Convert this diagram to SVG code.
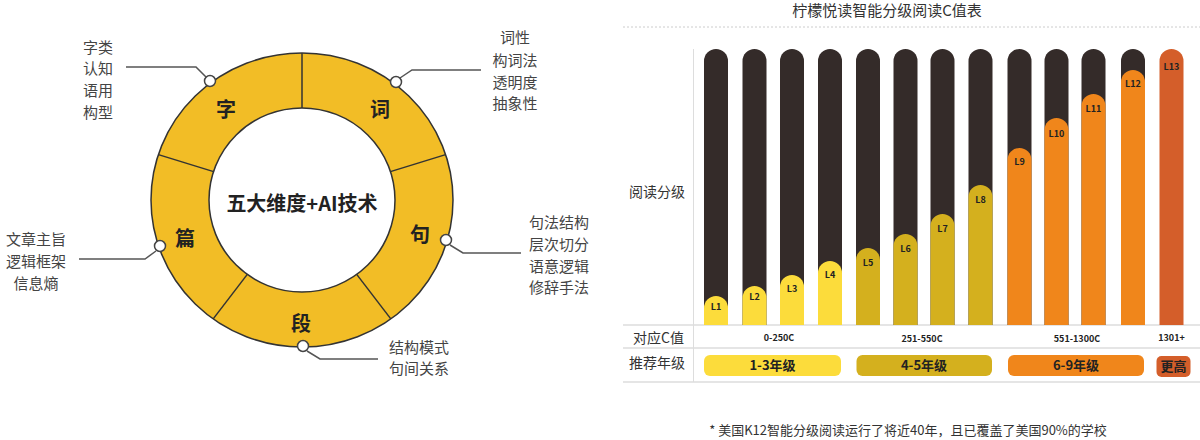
<svg xmlns="http://www.w3.org/2000/svg" width="1200" height="440" viewBox="0 0 1200 440">
<style>
text{font-family:"Noto Sans CJK SC","Liberation Sans",sans-serif;fill:#333}
.seg{font-size:20px;font-weight:bold;text-anchor:middle;dominant-baseline:central;fill:#222}
.lab{font-size:15px;fill:#444}
.lead{fill:none;stroke:#555;stroke-width:1.5}
.dot{fill:#fff;stroke:#444;stroke-width:1.5}
.div{stroke:#333;stroke-width:1.5}
.bg{fill:#342b29}
.bl{font-size:9px;font-weight:bold;text-anchor:middle;fill:#222}
.cv{font-size:9px;font-weight:bold;text-anchor:middle;fill:#222}
.row{font-size:14px;fill:#333}
.gr{font-size:13px;font-weight:bold;text-anchor:middle;fill:#222}
.y{fill:#fcdc3b}.o{fill:#d4b01e}.or{fill:#f0861b}.r{fill:#d45e2a}
</style>
<g id="ring">
<path d="M151,200 a151,147 0 1,0 302,0 a151,147 0 1,0 -302,0 Z M209,200 a93,92 0 1,0 186,0 a93,92 0 1,0 -186,0 Z" fill="#f2bd26" fill-rule="evenodd" stroke="#333" stroke-width="1.5"/>
<line class="div" x1="302" y1="53" x2="302" y2="108"/>
<line class="div" x1="445.6" y1="154.6" x2="390.4" y2="171.6"/>
<line class="div" x1="390.8" y1="318.9" x2="356.7" y2="274.4"/>
<line class="div" x1="213.2" y1="318.9" x2="247.3" y2="274.4"/>
<line class="div" x1="158.4" y1="154.6" x2="213.6" y2="171.6"/>
<text class="seg" x="302" y="202">五大维度+AI技术</text>
</g>
<g id="n-zi"><text class="seg" x="226" y="108">字</text>
<text class="lab" text-anchor="middle" x="98" y="53">字类</text><text class="lab" text-anchor="middle" x="98" y="74">认知</text><text class="lab" text-anchor="middle" x="98" y="96">语用</text><text class="lab" text-anchor="middle" x="98" y="118">构型</text></g>
<g id="n-ci"><text class="seg" x="380" y="108">词</text>
<text class="lab" text-anchor="middle" x="515" y="43">词性</text><text class="lab" text-anchor="middle" x="515" y="66">构词法</text><text class="lab" text-anchor="middle" x="515" y="88">透明度</text><text class="lab" text-anchor="middle" x="515" y="109">抽象性</text></g>
<g id="n-ju"><text class="seg" x="420" y="233">句</text>
<text class="lab" x="529" y="228">句法结构</text><text class="lab" x="529" y="250">层次切分</text><text class="lab" x="529" y="272">语意逻辑</text><text class="lab" x="529" y="293">修辞手法</text></g>
<g id="n-duan"><text class="seg" x="301" y="322">段</text>
<text class="lab" x="389" y="353">结构模式</text><text class="lab" x="389" y="374">句间关系</text></g>
<g id="n-pian"><text class="seg" x="185" y="237">篇</text>
<text class="lab" text-anchor="middle" x="36" y="245">文章主旨</text><text class="lab" text-anchor="middle" x="36" y="267">逻辑框架</text><text class="lab" text-anchor="middle" x="36" y="289">信息熵</text></g>
<g id="connectors">
<polyline class="lead" points="206,77 196,67 126,67"/>
<polyline class="lead" points="400,78 412,70 481,70"/>
<polyline class="lead" points="450,245 463,253 521,253"/>
<polyline class="lead" points="307,351 320,359 378,359"/>
<polyline class="lead" points="156,251 145,259 79,259"/>
<circle class="dot" cx="210" cy="81" r="5.5"/>
<circle class="dot" cx="396" cy="82" r="5.5"/>
<circle class="dot" cx="446" cy="240" r="5.5"/>
<circle class="dot" cx="303" cy="346" r="5.5"/>
<circle class="dot" cx="160" cy="246" r="5.5"/>
</g>
<g id="chart">
<text x="887" y="16" text-anchor="middle" font-size="15" fill="#444">柠檬悦读智能分级阅读C值表</text>
<line x1="623" y1="27" x2="1200" y2="27" stroke="#ccc" stroke-dasharray="2,2"/>
<line x1="693.5" y1="49" x2="693.5" y2="382" stroke="#ddd"/>
<line x1="623" y1="325" x2="1200" y2="325" stroke="#ddd" stroke-width="1.5"/>
<line x1="623" y1="348" x2="1200" y2="348" stroke="#ddd" stroke-width="1.5"/>
<line x1="623" y1="382" x2="1200" y2="382" stroke="#ddd" stroke-width="1.5"/>
<text class="row" x="629" y="197">阅读分级</text>
<text class="row" x="633" y="343">对应C值</text>
<text class="row" x="629" y="368">推荐年级</text>
</g>
<g id="bars">
<path class="bg" d="M704,325V61a12,12 0 0,1 24,0V325Z"/><path class="y" d="M704,325V308a12,12 0 0,1 24,0V325Z"/><text class="bl" x="716" y="310">L1</text>
<path class="bg" d="M742.5,325V61a12,12 0 0,1 24,0V325Z"/><path class="y" d="M742.5,325V298a12,12 0 0,1 24,0V325Z"/><text class="bl" x="754.5" y="300">L2</text>
<path class="bg" d="M780,325V61a12,12 0 0,1 24,0V325Z"/><path class="y" d="M780,325V287a12,12 0 0,1 24,0V325Z"/><text class="bl" x="792" y="292">L3</text>
<path class="bg" d="M818,325V61a12,12 0 0,1 24,0V325Z"/><path class="y" d="M818,325V273a12,12 0 0,1 24,0V325Z"/><text class="bl" x="830" y="278">L4</text>
<path class="bg" d="M856,325V61a12,12 0 0,1 24,0V325Z"/><path class="o" d="M856,325V260a12,12 0 0,1 24,0V325Z"/><text class="bl" x="868" y="266">L5</text>
<path class="bg" d="M893.5,325V61a12,12 0 0,1 24,0V325Z"/><path class="o" d="M893.5,325V246a12,12 0 0,1 24,0V325Z"/><text class="bl" x="905.5" y="252">L6</text>
<path class="bg" d="M930.5,325V61a12,12 0 0,1 24,0V325Z"/><path class="o" d="M930.5,325V226a12,12 0 0,1 24,0V325Z"/><text class="bl" x="942.5" y="232">L7</text>
<path class="bg" d="M968.5,325V61a12,12 0 0,1 24,0V325Z"/><path class="o" d="M968.5,325V197a12,12 0 0,1 24,0V325Z"/><text class="bl" x="980.5" y="203">L8</text>
<path class="bg" d="M1007.5,325V61a12,12 0 0,1 24,0V325Z"/><path class="or" d="M1007.5,325V160a12,12 0 0,1 24,0V325Z"/><text class="bl" x="1019.5" y="165">L9</text>
<path class="bg" d="M1044.5,325V61a12,12 0 0,1 24,0V325Z"/><path class="or" d="M1044.5,325V130a12,12 0 0,1 24,0V325Z"/><text class="bl" x="1056.5" y="137">L10</text>
<path class="bg" d="M1081.5,325V61a12,12 0 0,1 24,0V325Z"/><path class="or" d="M1081.5,325V106a12,12 0 0,1 24,0V325Z"/><text class="bl" x="1093.5" y="112">L11</text>
<path class="bg" d="M1121,325V61a12,12 0 0,1 24,0V325Z"/><path class="or" d="M1121,325V82a12,12 0 0,1 24,0V325Z"/><text class="bl" x="1133" y="87">L12</text>
<path class="r" d="M1159.5,325V61a12,12 0 0,1 24,0V325Z"/><text class="bl" x="1171.5" y="70">L13</text>
</g>
<g id="cvalues">
<text class="cv" x="779" y="341">0-250C</text>
<text class="cv" x="922" y="342">251-550C</text>
<text class="cv" x="1077" y="342">551-1300C</text>
<text class="cv" x="1171.5" y="341">1301+</text>
</g>
<g id="grades">
<rect class="y" x="704" y="355" width="137" height="21" rx="6"/><text class="gr" x="772.5" y="370">1-3年级</text>
<rect class="o" x="856.5" y="355" width="135.5" height="21" rx="6"/><text class="gr" x="924" y="370">4-5年级</text>
<rect class="or" x="1008" y="355" width="136" height="21" rx="6"/><text class="gr" x="1076" y="370">6-9年级</text>
<rect class="r" x="1156.5" y="356" width="34" height="21" rx="5"/><text class="gr" x="1173.5" y="371" font-size="12">更高</text>
</g>
<text x="908" y="435" text-anchor="middle" font-size="13" fill="#444">* 美国K12智能分级阅读运行了将近40年，且已覆盖了美国90%的学校</text>
</svg>
